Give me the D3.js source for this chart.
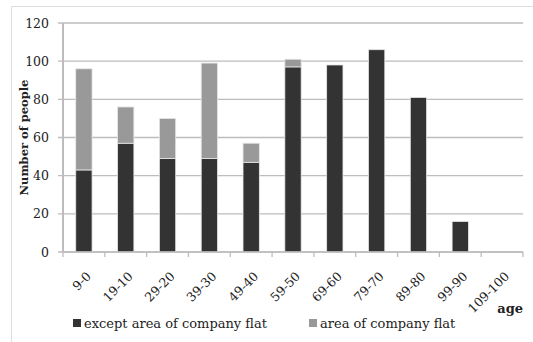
<!DOCTYPE html>
<html>
<head>
<meta charset="utf-8">
<script src="https://cdn.jsdelivr.net/npm/d3@7"></script>
<style>
  body { margin: 0; background: #fff; }
  text { font-family: "DejaVu Serif", "Liberation Serif", serif; }
</style>
</head>
<body>
<div id="chart"></div>
<script>
// age groups as labelled on the chart
const ageGroups = ['9-0', '19-10', '29-20', '39-30', '49-40', '59-50', '69-60', '79-70', '89-80', '99-90', '109-100'];
const exceptFlat = [43, 57, 49, 49, 47, 97, 98, 106, 81, 16, 0];
const companyFlat = [53, 19, 21, 50, 10, 4, 0, 0, 0, 0, 0];
const yTicks = [0, 20, 40, 60, 80, 100, 120];
const seriesNames = ['except area of company flat', 'area of company flat'];
const colors = ['#333333', '#999999'];

const width = 533, height = 342;
const margin = { top: 23, right: 10, bottom: 90, left: 63 };

const svg = d3.select('#chart').append('svg')
    .attr('width', width)
    .attr('height', height);

// outer frame
svg.append('rect')
    .attr('x', 11.5).attr('y', 6.5)
    .attr('width', width).attr('height', height)
    .attr('fill', 'none')
    .attr('stroke', '#dedede');

const x = d3.scaleBand()
    .domain(ageGroups)
    .range([margin.left, width - margin.right])
    .paddingInner(0.61)
    .paddingOuter(0.305);

const y = d3.scaleLinear()
    .domain([0, 120])
    .range([height - margin.bottom, margin.top]);

// gridlines
svg.append('g')
    .selectAll('line')
    .data(yTicks)
    .enter().append('line')
    .attr('x1', margin.left - 5)
    .attr('x2', width - margin.right)
    .attr('y1', d => y(d))
    .attr('y2', d => y(d))
    .attr('stroke', '#bdbdbd')
    .attr('stroke-width', 1.3);

// y tick labels
svg.append('g')
    .selectAll('text')
    .data(yTicks)
    .enter().append('text')
    .attr('x', margin.left - 14)
    .attr('y', d => y(d))
    .attr('dy', '0.36em')
    .attr('text-anchor', 'end')
    .style('font-size', '12.5px')
    .attr('fill', '#222')
    .text(d => d);

// stacked data
const rows = ageGroups.map((g, i) => ({ group: g, except: exceptFlat[i], company: companyFlat[i] }));
const stack = d3.stack().keys(['except', 'company'])(rows);

svg.append('g')
    .selectAll('g')
    .data(stack)
    .enter().append('g')
    .attr('fill', (d, i) => colors[i])
    .selectAll('rect')
    .data(d => d.filter(p => p[1] - p[0] > 0))
    .enter().append('rect')
    .attr('x', d => x(d.data.group))
    .attr('width', x.bandwidth())
    .attr('y', d => y(d[1]))
    .attr('height', d => y(d[0]) - y(d[1]))
    .attr('stroke', '#e6e6e6')
    .attr('stroke-width', 0.8);

// axes lines
const xAxisY = y(0);
svg.append('line')
    .attr('x1', margin.left).attr('x2', margin.left)
    .attr('y1', y(120)).attr('y2', xAxisY)
    .attr('stroke', '#bdbdbd').attr('stroke-width', 2);

svg.append('line')
    .attr('x1', margin.left).attr('x2', width - margin.right)
    .attr('y1', xAxisY).attr('y2', xAxisY)
    .attr('stroke', '#bdbdbd').attr('stroke-width', 1.5);

// x ticks at band boundaries
const step = x.step();
const boundaries = ageGroups.map(g => x(g) - step * x.paddingInner() / 2).concat([width - margin.right]);
svg.append('g')
    .selectAll('line')
    .data(boundaries)
    .enter().append('line')
    .attr('x1', d => d).attr('x2', d => d)
    .attr('y1', xAxisY).attr('y2', xAxisY + 5)
    .attr('stroke', '#bdbdbd').attr('stroke-width', 1.3);

// x tick labels, rotated
svg.append('g')
    .selectAll('text')
    .data(ageGroups)
    .enter().append('text')
    .attr('transform', d => `translate(${x(d) + x.bandwidth() / 2 + 8},${xAxisY + 25}) rotate(-45)`)
    .attr('text-anchor', 'end')
    .style('font-size', '12.5px')
    .attr('fill', '#222')
    .text(d => d);

// axis titles
svg.append('text')
    .attr('transform', `translate(28,${(y(0) + y(120)) / 2}) rotate(-90)`)
    .attr('text-anchor', 'middle')
    .style('font-size', '11.5px')
    .style('font-weight', 'bold')
    .attr('fill', '#222')
    .text('Number of people');

svg.append('text')
    .attr('x', 523)
    .attr('y', 313)
    .attr('text-anchor', 'end')
    .style('font-size', '13px')
    .style('font-weight', 'bold')
    .attr('fill', '#222')
    .text('age');

// legend
const legendX = [73, 309];
const legend = svg.append('g')
    .selectAll('g')
    .data(seriesNames)
    .enter().append('g')
    .attr('transform', (d, i) => `translate(${legendX[i]},319)`);

legend.append('rect')
    .attr('width', 8).attr('height', 8)
    .attr('fill', (d, i) => colors[i]);

legend.append('text')
    .attr('x', 11)
    .attr('y', 9)
    .style('font-size', '13px')
    .attr('fill', '#222')
    .text(d => d);
</script>
</body>
</html>
